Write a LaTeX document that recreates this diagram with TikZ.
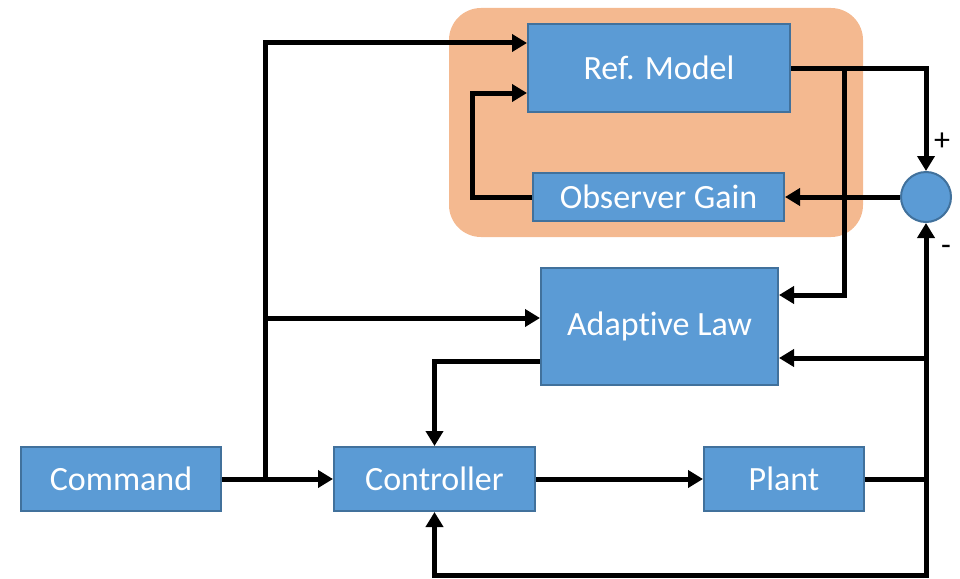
\documentclass[tikz,border=0pt]{standalone}
\usepackage{fontspec}
\setmainfont[Ligatures={NoCommon}]{Carlito}
\usetikzlibrary{arrows.meta,calc}
\definecolor{boxblue}{HTML}{5B9BD5}
\definecolor{boxedge}{HTML}{41719C}
\definecolor{bgorange}{HTML}{F4B990}
\tikzset{
  blk/.style={rectangle, fill=boxblue, draw=boxedge, line width=2pt, text=white, inner sep=0pt,
    font=\fontsize{34}{40}\selectfont},
  conn/.style={line width=5pt, draw=black},
  arr/.style={conn, -{Triangle[length=15pt,width=17pt]}},
  sgn/.style={font=\fontsize{32}{36}\selectfont, inner sep=0pt}
}
\begin{document}
\begin{tikzpicture}[x=1pt,y=-1pt]
\useasboundingbox (0,0) rectangle (960,578);
\fill[bgorange, rounded corners=32pt] (449,8) rectangle (863,237);
\node[blk, minimum width=200pt, minimum height=64pt] (cmd) at (121,479) {Command};
\node[blk, minimum width=201pt, minimum height=64pt] (ctrl) at (434.5,479) {Controller};
\node[blk, minimum width=160pt, minimum height=64pt] (plant) at (784,479) {Plant};
\node[blk, minimum width=237pt, minimum height=117pt] (adapt) at (659.5,326.5) {Adaptive Law};
\node[blk, minimum width=262pt, minimum height=88pt] (ref) at (659,68) {Ref. Model};
\node[blk, minimum width=251pt, minimum height=48pt] (obs) at (658.5,197) {Observer Gain};
\node[circle, fill=boxblue, draw=boxedge, line width=2pt, minimum size=50pt, inner sep=0pt] (sum) at (926,197) {};
\node[sgn] (plus) at (942,142) {+};
\node[sgn] (minus) at (946,250) {-};
\coordinate (j1) at (265,479);
\coordinate (j2) at (844,68);
\coordinate (j3) at (926,479);
\coordinate (j4) at (926,358);
\coordinate (c1) at (472,197);
\coordinate (c2) at (926,575);
% command paths
\draw[arr] (cmd.east) -- (ctrl.west);
\draw[arr] (j1) |- (ref.west |- 0,43);
\draw[arr] (j1 |- 0,318) -- (adapt.west |- 0,318);
% ref model output
\draw[arr] (ref.east |- j2) -| (sum.north);
\draw[arr] (j2) |- (adapt.east |- 0,295);
% observer loop
\draw[arr] (sum.west) -- (obs.east);
\draw[arr] (obs.west) -- (c1) |- (ref.west |- 0,93);
% plant output
\draw[arr] (plant.east) -| (sum.south);
\draw[arr] (j4) -- (adapt.east |- j4);
\draw[arr] (j3) -- (c2) -| (ctrl.south);
% adaptive law to controller
\draw[arr] (adapt.west |- 0,361) -| (ctrl.north);
\draw[arr] (ctrl.east) -- (plant.west);
\end{tikzpicture}
\end{document}
